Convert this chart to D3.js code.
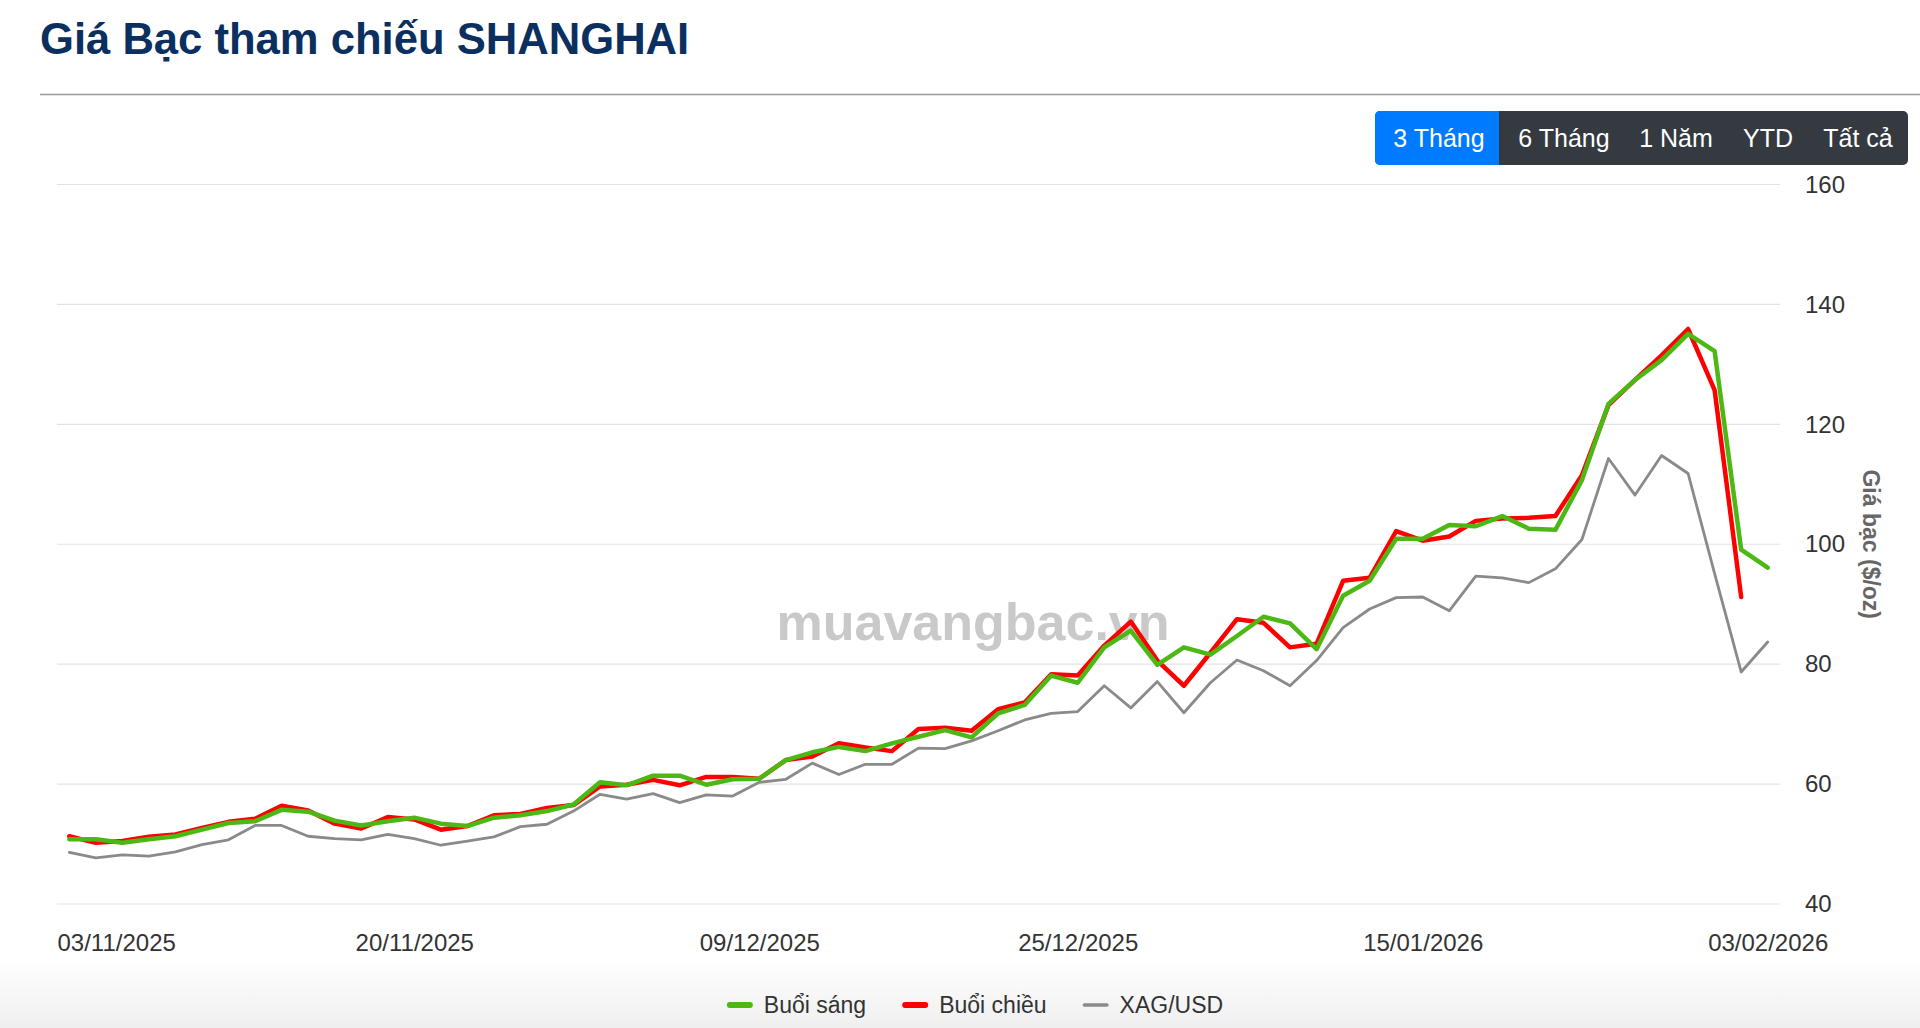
<!DOCTYPE html>
<html>
<head>
<meta charset="utf-8">
<title>Giá Bạc tham chiếu SHANGHAI</title>
<script src="https://cdn.jsdelivr.net/npm/d3@7"></script>
<style>
    body { margin: 0; background: #fff; font-family: "Liberation Sans", Arial, Helvetica, sans-serif; }
    svg { display: block; }
</style>
</head>
<body>
<div id="chart"></div>
<script>
// green #4cb814, red #ff0000, gray #8a8a8a

var dates = [
    "03/11/2025", "04/11/2025", "05/11/2025", "06/11/2025", "07/11/2025",
    "10/11/2025", "11/11/2025", "12/11/2025", "13/11/2025", "14/11/2025",
    "17/11/2025", "18/11/2025", "19/11/2025", "20/11/2025", "21/11/2025",
    "24/11/2025", "25/11/2025", "26/11/2025", "27/11/2025", "28/11/2025",
    "01/12/2025", "02/12/2025", "03/12/2025", "04/12/2025", "05/12/2025",
    "08/12/2025", "09/12/2025", "10/12/2025", "11/12/2025", "12/12/2025",
    "15/12/2025", "16/12/2025", "17/12/2025", "18/12/2025", "19/12/2025",
    "22/12/2025", "23/12/2025", "24/12/2025", "25/12/2025", "26/12/2025",
    "29/12/2025", "30/12/2025", "31/12/2025", "05/01/2026", "06/01/2026",
    "07/01/2026", "08/01/2026", "09/01/2026", "12/01/2026", "13/01/2026",
    "14/01/2026", "15/01/2026", "16/01/2026", "19/01/2026", "20/01/2026",
    "21/01/2026", "22/01/2026", "23/01/2026", "26/01/2026", "27/01/2026",
    "28/01/2026", "29/01/2026", "30/01/2026", "02/02/2026", "03/02/2026"
];

// Buổi sáng
var morning = [
    50.8, 50.8, 50.2, 50.8, 51.3, 52.4, 53.5, 53.8, 55.7, 55.4,
    53.9, 53.1, 53.8, 54.4, 53.4, 53.0, 54.4, 54.8, 55.5, 56.6,
    60.3, 59.8, 61.4, 61.4, 59.9, 60.8, 60.9, 64.0, 65.3, 66.2,
    65.5, 66.8, 67.9, 69.0, 67.8, 71.8, 73.2, 78.1, 76.9, 82.8,
    85.6, 79.9, 82.8, 81.6, 84.7, 87.9, 86.8, 82.5, 91.4, 93.9,
    100.9, 100.9, 103.2, 103.0, 104.7, 102.6, 102.4, 110.7, 123.4, 127.4,
    130.7, 135.1, 132.2, 99.1, 96.1
];

// Buổi chiều
var afternoon = [
    51.3, 50.2, 50.5, 51.2, 51.6, 52.7, 53.7, 54.2, 56.4, 55.6,
    53.4, 52.6, 54.5, 54.1, 52.4, 53.0, 54.8, 55.0, 56.0, 56.5,
    59.6, 59.9, 60.7, 59.8, 61.2, 61.2, 60.9, 64.0, 64.6, 66.8,
    66.1, 65.5, 69.2, 69.4, 68.9, 72.5, 73.6, 78.3, 78.1, 83.1,
    87.1, 80.6, 76.4, 81.9, 87.5, 86.9, 82.8, 83.4, 93.9, 94.4,
    102.2, 100.6, 101.3, 103.9, 104.3, 104.4, 104.7, 111.5, 123.2, 127.4,
    131.5, 135.9, 125.7, 91.2, null
];

// XAG/USD
var xagusd = [
    48.6, 47.7, 48.2, 48.0, 48.7, 49.9, 50.7, 53.1, 53.1, 51.3,
    50.9, 50.7, 51.6, 50.9, 49.8, 50.5, 51.2, 52.9, 53.3, 55.5,
    58.3, 57.5, 58.4, 56.9, 58.2, 58.0, 60.3, 60.8, 63.5, 61.6,
    63.3, 63.3, 66.0, 65.9, 67.2, 68.9, 70.7, 71.8, 72.1, 76.4,
    72.7, 77.1, 71.9, 76.9, 80.7, 78.9, 76.4, 80.6, 86.1, 89.2,
    91.1, 91.2, 88.9, 94.7, 94.4, 93.6, 95.9, 100.8, 114.3, 108.2,
    114.8, 111.8, 95.1, 78.7, 83.7
];

var tickDates = ["03/11/2025", "20/11/2025", "09/12/2025", "25/12/2025", "15/01/2026", "03/02/2026"];
var yTicks = [40, 60, 80, 100, 120, 140, 160];
var seriesNames = ["Buổi sáng", "Buổi chiều", "XAG/USD"];
var rangeButtons = ["3 Tháng", "6 Tháng", "1 Năm", "YTD", "Tất cả"];


var width = 1920,
    height = 1028,
    plotLeft = 57,
    plotRight = 1780,
    plotTop = 184.5,
    plotBottom = 904;

var svg = d3.select("#chart").append("svg")
    .attr("width", width)
    .attr("height", height);

// faint grey at the bottom of the page
var defs = svg.append("defs");
var grad = defs.append("linearGradient")
    .attr("id", "bottomFade")
    .attr("x1", 0).attr("y1", 0).attr("x2", 0).attr("y2", 1);
grad.append("stop").attr("offset", "0%").attr("stop-color", "#ffffff");
grad.append("stop").attr("offset", "100%").attr("stop-color", "#efefef");

svg.append("rect")
    .attr("x", 0)
    .attr("y", 960)
    .attr("width", width)
    .attr("height", height - 960)
    .style("fill", "url(#bottomFade)");

// title + rule
svg.append("text")
    .attr("x", 40)
    .attr("y", 54)
    .attr("fill", "#0b2f5e")
    .attr("font-weight", "bold")
    .attr("font-size", 43.6)
    .text("Giá Bạc tham chiếu SHANGHAI");

svg.append("line")
    .attr("x1", 40)
    .attr("x2", width)
    .attr("y1", 94.5)
    .attr("y2", 94.5)
    .style("stroke", "#9a9a9a")
    .style("stroke-width", 1.5);

// range buttons
var btnX = 1375, btnY = 111, btnH = 54, btnW = 533;
var btnCenters = [1439, 1564, 1676, 1768, 1858];

svg.append("rect")
    .attr("x", btnX)
    .attr("y", btnY)
    .attr("width", btnW)
    .attr("height", btnH)
    .attr("rx", 5)
    .style("fill", "#343a40");

svg.append("path")
    .attr("d", "M" + 1499 + "," + btnY + "H" + (btnX + 5) + "A5,5 0 0 0 " + btnX + "," + (btnY + 5) +
        "V" + (btnY + btnH - 5) + "A5,5 0 0 0 " + (btnX + 5) + "," + (btnY + btnH) + "H1499Z")
    .style("fill", "#007bff");

svg.selectAll(".btn-label")
    .data(rangeButtons)
    .enter()
    .append("text")
    .attr("class", "btn-label")
    .attr("x", function (d, i) { return btnCenters[i]; })
    .attr("y", btnY + btnH / 2)
    .attr("text-anchor", "middle")
    .attr("dominant-baseline", "central")
    .attr("fill", "#fff")
    .attr("font-size", 25)
    .text(function (d) { return d; });

// scales
var x = d3.scalePoint()
    .domain(dates)
    .range([69.3, 1767.7]);

var y = d3.scaleLinear()
    .domain([40, 160])
    .range([plotBottom, plotTop]);

// grid
svg.append("g")
    .selectAll("line")
    .data(yTicks)
    .enter()
    .append("line")
    .attr("x1", plotLeft)
    .attr("x2", plotRight)
    .attr("y1", function (d) { return y(d); })
    .attr("y2", function (d) { return y(d); })
    .style("stroke", "#e3e3e3")
    .style("stroke-width", 1.2);

// y axis (right side)
var yAxis = svg.append("g")
    .attr("transform", "translate(" + plotRight + ",0)")
    .call(d3.axisRight(y).tickValues(yTicks).tickSize(0).tickPadding(25));

yAxis.select(".domain").remove();
yAxis.selectAll("text")
    .attr("fill", "#333")
    .attr("font-size", 24)
    .attr("font-family", "Liberation Sans, Arial, sans-serif");

svg.append("text")
    .attr("transform", "translate(1871," + ((plotTop + plotBottom) / 2) + ") rotate(90)")
    .attr("text-anchor", "middle")
    .attr("dominant-baseline", "central")
    .attr("fill", "#666")
    .attr("font-weight", "bold")
    .attr("font-size", 23)
    .text("Giá bạc ($/oz)");

// x axis
var xAxis = svg.append("g")
    .attr("transform", "translate(0," + plotBottom + ")")
    .call(d3.axisBottom(x).tickValues(tickDates).tickSize(0).tickPadding(30));

xAxis.select(".domain").remove();
xAxis.selectAll("text")
    .attr("fill", "#333")
    .attr("font-size", 24)
    .attr("font-family", "Liberation Sans, Arial, sans-serif");

// first label is pushed inside the plot
xAxis.selectAll(".tick")
    .filter(function (d, i) { return i === 0; })
    .select("text")
    .attr("text-anchor", "start")
    .attr("x", plotLeft - x(tickDates[0]));

// watermark
svg.append("text")
    .attr("x", 973)
    .attr("y", 640)
    .attr("text-anchor", "middle")
    .attr("fill", "#c9c9c9")
    .attr("font-weight", "bold")
    .attr("font-size", 52)
    .text("muavangbac.vn");

// lines
var series = [
    { name: seriesNames[2], values: xagusd, color: "#8a8a8a", width: 2.8 },
    { name: seriesNames[1], values: afternoon, color: "#ff0000", width: 4.5 },
    { name: seriesNames[0], values: morning, color: "#4cb814", width: 4.5 }
];

var line = d3.line()
    .defined(function (d) { return d != null; })
    .x(function (d, i) { return x(dates[i]); })
    .y(function (d) { return y(d); });

svg.append("g")
    .selectAll("path")
    .data(series)
    .enter()
    .append("path")
    .attr("d", function (d) { return line(d.values); })
    .style("fill", "none")
    .style("stroke", function (d) { return d.color; })
    .style("stroke-width", function (d) { return d.width; })
    .style("stroke-linejoin", "round")
    .style("stroke-linecap", "round");

// legend
var legendItems = [
    { name: seriesNames[0], color: "#4cb814", h: 6 },
    { name: seriesNames[1], color: "#ff0000", h: 6 },
    { name: seriesNames[2], color: "#8a8a8a", h: 3.5 }
];

var legend = svg.append("g");
var lx = 0;
legendItems.forEach(function (d) {
    var item = legend.append("g").attr("transform", "translate(" + lx + ",0)");
    item.append("rect")
        .attr("x", 0)
        .attr("y", -d.h / 2)
        .attr("width", 26)
        .attr("height", d.h)
        .attr("rx", d.h / 2)
        .style("fill", d.color);
    var t = item.append("text")
        .attr("x", 37)
        .attr("y", 0)
        .attr("dominant-baseline", "central")
        .attr("fill", "#333")
        .attr("font-size", 23)
        .text(d.name);
    lx += 37 + t.node().getComputedTextLength() + 36;
});
lx -= 36;
legend.attr("transform", "translate(" + (975 - lx / 2) + ",1005)");

</script>
</body>
</html>
